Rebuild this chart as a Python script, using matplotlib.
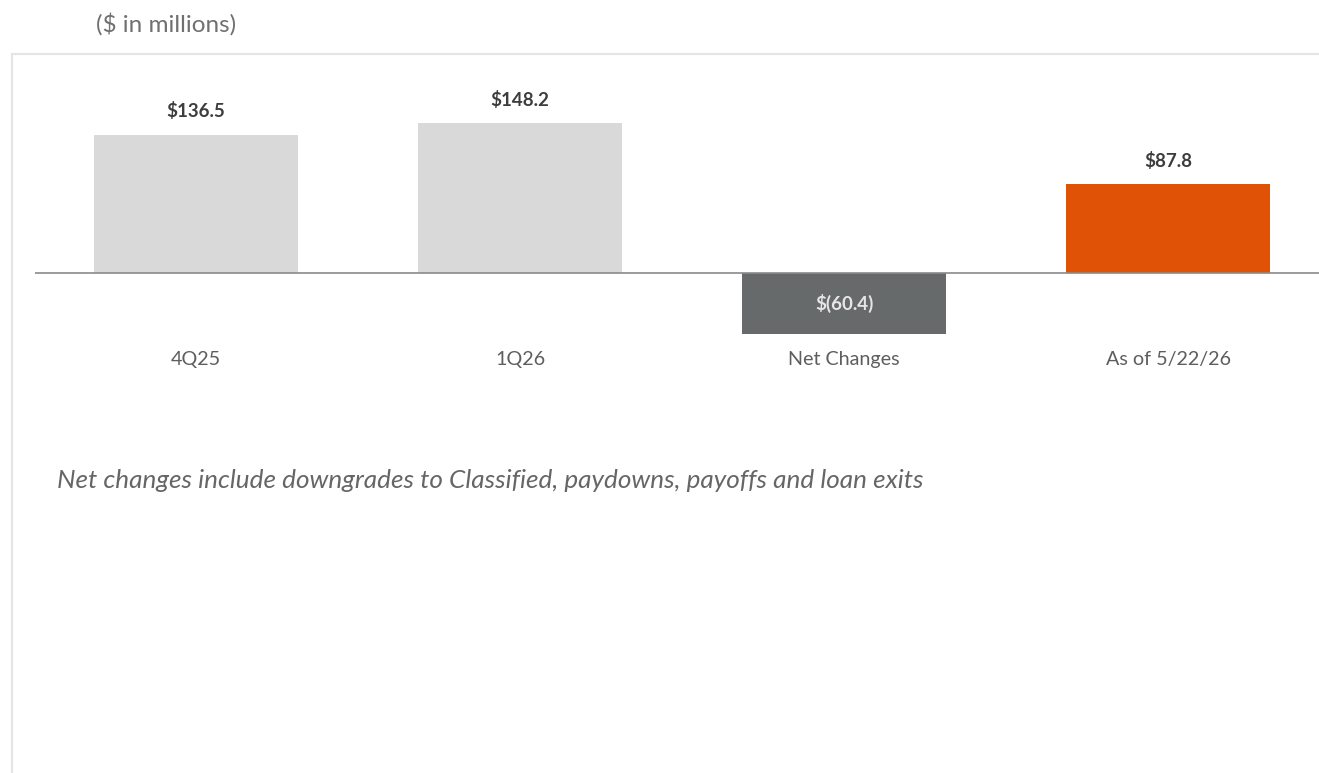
import matplotlib
matplotlib.use("Agg")
import matplotlib.pyplot as plt
from matplotlib.patches import Rectangle

plt.rcParams['font.family'] = ['Lato', 'DejaVu Sans']

# Data ($ in millions)
categories = ["4Q25", "1Q26", "Net Changes", "As of 5/22/26"]
values = [136.5, 148.2, -60.4, 87.8]
value_labels = ["$136.5", "$148.2", "$(60.4)", "$87.8"]
bar_colors = ["#d9d9d9", "#d9d9d9", "#676a6b", "#e05206"]

W, H = 1319, 773
fig = plt.figure(figsize=(W / 100, H / 100), dpi=100)
fig.patch.set_facecolor("white")

# light panel frame
frame = Rectangle((12 / W, -0.01), 1.02, 1 - 54 / H + 0.01, transform=fig.transFigure,
                  fill=False, edgecolor="#e4e4e4", linewidth=1.5)
fig.add_artist(frame)

fig.text(96 / W, 1 - 24 / H, "($ in millions)", ha="left", va="center",
         fontsize=17.5, color="#707070")

ax = fig.add_axes([35 / W, 0, 1 - 35 / W, 1 - 55 / H])
x = list(range(len(categories)))
ax.bar(x, values, width=0.63, color=bar_colors, zorder=2)
ax.axhline(0, color="#8a8a8a", linewidth=1.2, zorder=3)

for xi, v, lab in zip(x, values, value_labels):
    if v >= 0:
        ax.text(xi, v + 23, lab, ha="center", va="center", fontsize=13.5,
                fontweight="bold", color="#3d3d3d")
    else:
        ax.text(xi, v / 2, lab, ha="center", va="center", fontsize=13.5,
                fontweight="bold", color="#e6e6e6")
    ax.text(xi, -86, categories[xi], ha="center", va="center", fontsize=14.2,
            color="#5e5e5e")

ax.text(-0.43, -206, "Net changes include downgrades to Classified, paydowns, payoffs and loan exits",
        ha="left", va="center", fontsize=18.8, style="italic", color="#666666")

ax.set_xlim((35 - 196) / 324, (1319 - 196) / 324)
ax.set_ylim(-(773 - 272.5) / 1.01, (272.5 - 55) / 1.01)
ax.axis("off")

fig.savefig("out.png", dpi=100, facecolor="white")
